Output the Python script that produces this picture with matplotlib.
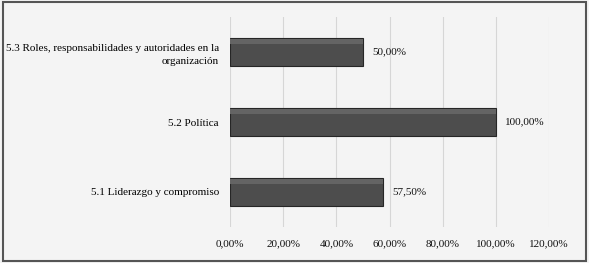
import matplotlib.pyplot as plt
from matplotlib.patches import Rectangle

plt.rcParams['font.family'] = ['Liberation Serif', 'DejaVu Serif']

# datos
categorias = ['5.1 Liderazgo y compromiso',
              '5.2 Política',
              '5.3 Roles, responsabilidades y autoridades en la\norganización']
valores = [57.5, 100.0, 50.0]
etiquetas = ['57,50%', '100,00%', '50,00%']
ticks = [0, 20, 40, 60, 80, 100, 120]
tick_labels = ['0,00%', '20,00%', '40,00%', '60,00%', '80,00%', '100,00%', '120,00%']

fig = plt.figure(figsize=(5.89, 2.63), dpi=100)
fig.patch.set_facecolor('#f4f4f4')
ax = fig.add_axes([0.3905, 0.137, 0.5416, 0.798])
ax.set_facecolor('#f4f4f4')

pos = range(len(categorias))
ax.barh(pos, valores, height=0.41, color='#4d4d4d', edgecolor='#262626', linewidth=0.8, zorder=3)
# brillo superior para imitar el efecto 3D
ax.barh([p + 0.15 for p in pos], valores, height=0.06, color='#646464', linewidth=0, zorder=4)

for p, v, t in zip(pos, valores, etiquetas):
    ax.text(v + 3.5, p, t, va='center', ha='left', fontsize=8, color='#111111')

ax.set_xlim(0, 120)
ax.set_ylim(-0.5, 2.5)
ax.set_xticks(ticks)
ax.set_xticklabels(tick_labels, fontsize=8, color='#111111')
ax.set_yticks(list(pos))
ax.set_yticklabels(categorias, fontsize=8, color='#000000', linespacing=1.6)
ax.tick_params(length=0, pad=8)
ax.tick_params(axis='x', pad=9)
ax.grid(axis='x', color='#d6d6d6', linewidth=0.8, zorder=0)
for s in ax.spines.values():
    s.set_visible(False)

# marco exterior
fig.patches.append(Rectangle((0.005, 0.008), 0.99, 0.984, transform=fig.transFigure,
                             fill=False, edgecolor='#555555', linewidth=1.5))

plt.savefig('out.png', dpi=100)
